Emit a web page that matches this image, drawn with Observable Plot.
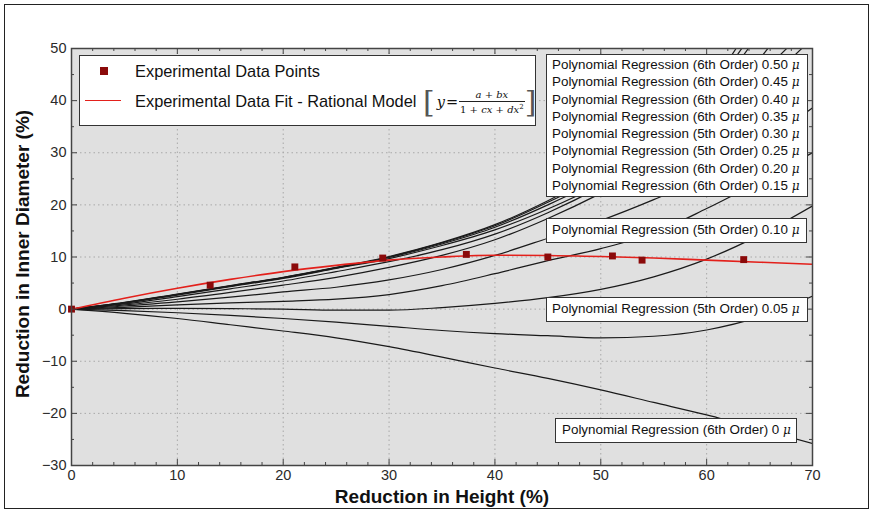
<!DOCTYPE html>
<html>
<head>
<meta charset="utf-8">
<script src="https://cdn.jsdelivr.net/npm/d3@7"></script>
<script src="https://cdn.jsdelivr.net/npm/@observablehq/plot@0.6"></script>
<style>
  html, body { margin: 0; padding: 0; background: #fff; }
  #wrap { position: relative; width: 874px; height: 511px; font-family: "Liberation Sans", Arial, sans-serif; }
  #outer { position: absolute; left: 4px; top: 4px; width: 863px; height: 503px; border: 1.5px solid #222; pointer-events: none; }
  .box { position: absolute; background: #fff; border: 1.5px solid #333; box-sizing: border-box; color: #111; font-size: 13.4px; white-space: nowrap; }
  .row { height: 17.3px; line-height: 17.3px; }
  .mu { font-family: "DejaVu Serif", serif; font-style: italic; font-size: 12px; }
  .math { font-family: "DejaVu Serif", "Liberation Serif", serif; font-style: italic; }
  #ylab { position: absolute; left: 23px; top: 254px; transform: translate(-50%, -50%) rotate(-90deg); font-weight: bold; font-size: 19px; color: #111; white-space: nowrap; }
  #xlab { position: absolute; left: 442px; top: 497px; transform: translate(-50%, -50%); font-weight: bold; font-size: 19px; color: #111; white-space: nowrap; }
</style>
</head>
<body>
<div id="wrap"></div>
<script>
// ---- data ----
const xs = [0, 5, 10, 15, 20, 25, 30, 35, 40, 45, 50, 55, 60, 65, 70];
const mu050 = [0, 1.3, 2.9, 4.5, 6.1, 8.0, 10.1, 12.8, 16.2, 20.8, 26.3, 33.3, 42.0, 57.0, 72];
const mu045 = [0, 1.25, 2.85, 4.45, 6.05, 7.95, 10.0, 12.7, 16.0, 20.5, 25.8, 32.5, 41.0, 55.0, 70];
const mu040 = [0, 1.2, 2.8, 4.4, 6.0, 7.9, 9.9, 12.5, 15.7, 20.0, 25.0, 31.5, 39.8, 53.0, 68];
const mu035 = [0, 1.15, 2.7, 4.3, 5.9, 7.8, 9.7, 12.2, 15.2, 19.2, 24.0, 30.0, 37.5, 48.0, 62];
const mu030 = [0, 1.0, 2.4, 3.9, 5.4, 7.2, 9.1, 11.4, 14.4, 18.5, 23.5, 29.5, 36.5, 45.0, 55];
const mu025 = [0, 0.8, 1.9, 3.2, 4.6, 6.1, 8.0, 10.3, 13.3, 17.4, 22.2, 27.8, 34.5, 42.5, 52];
const mu020 = [0, 0.6, 1.4, 2.3, 3.3, 4.2, 5.6, 7.6, 10.3, 13.6, 17.0, 21.0, 25.5, 31.5, 38.6];
const mu015 = [0, 0.35, 0.8, 1.2, 1.5, 1.9, 2.8, 4.5, 6.8, 9.3, 11.6, 14.6, 19.3, 24.5, 30];
const mu010 = [0, 0.1, 0.15, 0.1, 0, -0.2, -0.2, 0.3, 1.1, 2.2, 3.8, 6.2, 9.6, 14.2, 19.8];
const mu005 = [0, -0.3, -0.7, -1.2, -1.8, -2.5, -3.3, -4.1, -4.7, -5.1, -5.5, -5.2, -4.0, -1.5, 2.5];
const mu000 = [0, -0.8, -1.8, -3.0, -4.2, -5.5, -7.2, -9.2, -11.3, -13.3, -15.5, -17.9, -20.3, -23.0, -25.8];
const fitY = [0, 2.1, 4.0, 5.7, 7.2, 8.4, 9.4, 10.0, 10.35, 10.3, 10.1, 9.8, 9.4, 9.0, 8.6];
const ptX = [0, 13.1, 21.1, 29.4, 37.3, 45.0, 51.1, 53.9, 63.5];
const ptY = [0, 4.6, 8.1, 9.8, 10.5, 10.0, 10.2, 9.4, 9.5];
const xMajor = [0, 10, 20, 30, 40, 50, 60, 70];
const yMajor = [-30, -20, -10, 0, 10, 20, 30, 40, 50];
const boxLabels = [
  "Polynomial Regression (6th Order) 0.50",
  "Polynomial Regression (6th Order) 0.45",
  "Polynomial Regression (6th Order) 0.40",
  "Polynomial Regression (6th Order) 0.35",
  "Polynomial Regression (5th Order) 0.30",
  "Polynomial Regression (5th Order) 0.25",
  "Polynomial Regression (6th Order) 0.20",
  "Polynomial Regression (6th Order) 0.15"
];
const label010 = "Polynomial Regression (5th Order) 0.10";
const label005 = "Polynomial Regression (5th Order) 0.05";
const label000 = "Polynomial Regression (6th Order) 0";

// ---- build tables ----
const series = {"0.50": mu050, "0.45": mu045, "0.40": mu040, "0.35": mu035, "0.30": mu030,
  "0.25": mu025, "0.20": mu020, "0.15": mu015, "0.10": mu010, "0.05": mu005, "0": mu000};
const rows = [];
for (const [k, ys] of Object.entries(series)) ys.forEach((y, i) => rows.push({mu: k, x: xs[i], y}));
const fit = xs.map((x, i) => ({x, y: fitY[i]}));
const pts = ptX.map((x, i) => ({x, y: ptY[i]}));

const W = 874, H = 511, mL = 71, mR = 62, mT = 48, mB = 46;
const pxX = (W - mL - mR) / 70, pxY = (H - mT - mB) / 80;
const xMinor = d3.range(0, 71, 2).filter(v => v % 10 !== 0);
const yMinor = d3.range(-25, 50, 10);
const majX = 6 / pxX, minX = 3 / pxX, majY = 6 / pxY, minY = 3 / pxY;
const fmt = d => String(d).replace("-", "\u2212");

const chart = Plot.plot({
  width: W, height: H, marginLeft: mL, marginRight: mR, marginTop: mT, marginBottom: mB,
  x: {domain: [0, 70]},
  y: {domain: [-30, 50]},
  style: {background: "transparent", fontFamily: "'Liberation Sans', Arial, sans-serif", fontSize: "14.5px", color: "#2a2a2a", overflow: "visible"},
  marks: [
    Plot.frame({fill: "#e0e0e0", stroke: null}),
    Plot.ruleX(xMajor.slice(1, -1), {stroke: "#a8a8a8", strokeDasharray: "1.5,3"}),
    Plot.ruleY(yMajor.slice(1, -1), {stroke: "#a8a8a8", strokeDasharray: "1.5,3"}),
    Plot.line(rows, {x: "x", y: "y", z: "mu", stroke: "#1a1a1a", strokeWidth: 1.2, curve: "monotone-x", clip: true}),
    Plot.line(fit, {x: "x", y: "y", stroke: "#e3201b", strokeWidth: 1.6, curve: "monotone-x", clip: true}),
    Plot.dot(pts, {x: "x", y: "y", symbol: "square", r: 3.9, fill: "#8b0a0a", stroke: null}),
    // inward ticks on all four sides
    Plot.ruleX(xMajor, {x: d => d, y1: -30, y2: -30 + majY, stroke: "#444"}),
    Plot.ruleX(xMinor, {x: d => d, y1: -30, y2: -30 + minY, stroke: "#444"}),
    Plot.ruleX(xMajor, {x: d => d, y1: 50, y2: 50 - majY, stroke: "#444"}),
    Plot.ruleX(xMinor, {x: d => d, y1: 50, y2: 50 - minY, stroke: "#444"}),
    Plot.ruleY(yMajor, {y: d => d, x1: 0, x2: majX, stroke: "#444"}),
    Plot.ruleY(yMinor, {y: d => d, x1: 0, x2: minX, stroke: "#444"}),
    Plot.ruleY(yMajor, {y: d => d, x1: 70, x2: 70 - majX, stroke: "#444"}),
    Plot.ruleY(yMinor, {y: d => d, x1: 70, x2: 70 - minX, stroke: "#444"}),
    Plot.frame({stroke: "#444", strokeWidth: 1.5}),
    Plot.axisX(xMajor, {anchor: "bottom", tickSize: 0, tickPadding: 4, label: null, tickFormat: fmt}),
    Plot.axisY(yMajor, {anchor: "left", tickSize: 0, tickPadding: 5, label: null, tickFormat: fmt})
  ]
});

const wrap = document.getElementById("wrap");
chart.style.position = "absolute";
chart.style.left = "0px";
chart.style.top = "0px";
wrap.appendChild(chart);

function addHTML(html) {
  const t = document.createElement("div");
  t.innerHTML = html;
  while (t.firstChild) wrap.appendChild(t.firstChild);
}
const muSpan = ' <span class="mu">\u03bc</span>';

// legend
addHTML(`
<div class="box" style="left:79px;top:55px;width:457px;height:71px;font-size:16.4px;">
  <span style="position:absolute;left:20px;top:11px;width:8px;height:8px;background:#8b0a0a;"></span>
  <span style="position:absolute;left:55px;top:4px;height:22px;line-height:22px;">Experimental Data Points</span>
  <span style="position:absolute;left:5px;top:44px;width:36px;height:0;border-top:1.7px solid #e3201b;"></span>
  <span style="position:absolute;left:55px;top:34px;height:22px;line-height:22px;">Experimental Data Fit - Rational Model</span>
  <span style="position:absolute;left:343px;top:27px;height:38px;display:flex;align-items:center;" class="math">
    <span style="font-size:30px;font-style:normal;font-weight:200;color:#555;line-height:30px;">[</span>
    <span style="font-size:14.5px;margin:0 1px 0 2px;">y</span><span style="font-style:normal;font-size:14.5px;">=</span>
    <span style="display:inline-flex;flex-direction:column;align-items:center;font-size:10px;margin-left:1px;">
      <span style="padding:0 1px 1px 1px;">a<span style="font-style:normal"> + </span>bx</span>
      <span style="border-top:1px solid #222;padding:1px 1px 0 1px;"><span style="font-style:normal">1 + </span>cx<span style="font-style:normal"> + </span>dx<sup style="font-size:7px;font-style:normal">2</sup></span>
    </span>
    <span style="font-size:30px;font-style:normal;font-weight:200;color:#555;line-height:30px;">]</span>
  </span>
</div>`);

// polynomial label boxes
addHTML(`<div class="box" style="left:546px;top:54px;width:262px;height:143px;padding:1px 0 0 5px;">` +
  boxLabels.map(s => `<div class="row">${s}${muSpan}</div>`).join("") + `</div>`);
addHTML(`<div class="box" style="left:546px;top:218px;width:261px;height:25px;padding:2px 0 0 5px;"><div class="row">${label010}${muSpan}</div></div>`);
addHTML(`<div class="box" style="left:546px;top:297px;width:262px;height:25px;padding:2px 0 0 5px;"><div class="row">${label005}${muSpan}</div></div>`);
addHTML(`<div class="box" style="left:555px;top:418px;width:242px;height:25px;padding:2px 0 0 6px;"><div class="row">${label000}${muSpan}</div></div>`);

// axis titles and outer frame
addHTML(`<div id="ylab">Reduction in Inner Diameter (%)</div>`);
addHTML(`<div id="xlab">Reduction in Height (%)</div>`);
addHTML(`<div id="outer"></div>`);
</script>
</body>
</html>
